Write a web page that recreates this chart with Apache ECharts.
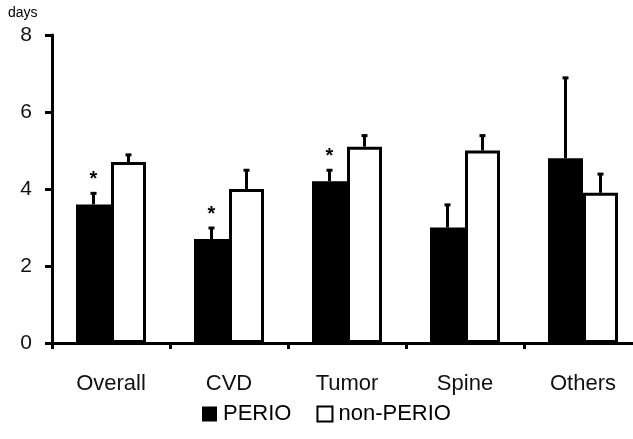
<!DOCTYPE html>
<html><head><meta charset="utf-8">
<script src="https://cdn.jsdelivr.net/npm/echarts@6/dist/echarts.min.js"></script>
<style>html,body{margin:0;padding:0;background:#fff}#c{width:633px;height:439px}</style>
</head><body><div id="c"></div>
<script>
const categories = ['Overall', 'CVD', 'Tumor', 'Spine', 'Others'];
const perio = [3.6, 2.7, 4.2, 3.0, 4.8];
const perioErr = [3.9, 3.0, 4.5, 3.6, 6.9];
const nonPerio = [4.7, 4.0, 5.1, 5.0, 3.9];
const nonPerioErr = [4.9, 4.5, 5.4, 5.4, 4.4];
const perioSig = [true, true, true, false, false];
const yTicks = [0, 2, 4, 6, 8];

const chart = echarts.init(document.getElementById('c'));
const font = 'Liberation Sans, Arial, sans-serif';
const BW = 35;

function errSeries(name, vals, tops, side, sig) {
  return {
    type: 'custom', name: name + '_err', silent: true, z: 5,
    data: categories.map((c, i) => [i, vals[i], tops[i], sig ? (sig[i] ? 1 : 0) : 0]),
    renderItem: function (params, api) {
      const i = api.value(0);
      const base = api.coord([i, api.value(1)]);
      const top = api.coord([i, api.value(2)]);
      const x = base[0] + side * BW / 2;
      const children = [
        { type: 'line', shape: { x1: x, y1: base[1], x2: x, y2: top[1] }, style: { stroke: '#000', lineWidth: 3 } },
        { type: 'rect', shape: { x: x - 3, y: top[1] - 1, width: 6, height: 3 }, style: { fill: '#000' } }
      ];
      if (api.value(3) === 1) {
        children.push({ type: 'text', style: { text: '*', x: x, y: top[1] - 3, align: 'center', verticalAlign: 'bottom', fontSize: 20, fontFamily: font, fontWeight: 'bold', fill: '#000' } });
      }
      return { type: 'group', children: children };
    }
  };
}

chart.setOption({
  animation: false,
  grid: { left: 52, top: 35, width: 590, bottom: 96, outerBoundsMode: 'none', containLabel: false },
  graphic: [{ type: 'text', left: 8, top: 6, style: { text: 'days', fontSize: 14, fontFamily: font, fill: '#000' } }],
  legend: {
    left: 202, top: 403, padding: 0, itemWidth: 15, itemHeight: 15, itemGap: 25, icon: 'rect',
    data: ['PERIO', 'non-PERIO'],
    textStyle: { fontSize: 22, fontFamily: font, color: '#000', padding: [0, 0, 0, 1] }
  },
  xAxis: {
    type: 'category', data: categories,
    axisLine: { lineStyle: { color: '#000', width: 3 } },
    axisTick: { show: true, length: 6, lineStyle: { color: '#000', width: 3 } },
    axisLabel: { fontSize: 22, fontFamily: font, color: '#111', margin: 30 }
  },
  yAxis: {
    type: 'value', min: 0, max: 8, interval: 2,
    axisLine: { show: true, lineStyle: { color: '#000', width: 3 } },
    axisTick: { show: true, length: 7, lineStyle: { color: '#000', width: 3 } },
    splitLine: { show: false },
    axisLabel: { fontSize: 21, fontFamily: font, color: '#111', margin: 20,
      formatter: v => yTicks.includes(v) ? String(v) : '' }
  },
  series: [
    { name: 'PERIO', type: 'bar', data: perio, barWidth: BW, barGap: '0%', z: 3,
      itemStyle: { color: '#000', borderColor: '#000', borderWidth: 0 } },
    { name: 'non-PERIO', type: 'bar', data: nonPerio, barWidth: BW, barGap: '0%', z: 2,
      itemStyle: { color: '#fff', borderColor: '#000', borderWidth: 3 } },
    errSeries('PERIO', perio, perioErr, -1, perioSig),
    errSeries('non-PERIO', nonPerio, nonPerioErr, 1, null)
  ]
});
</script></body></html>
